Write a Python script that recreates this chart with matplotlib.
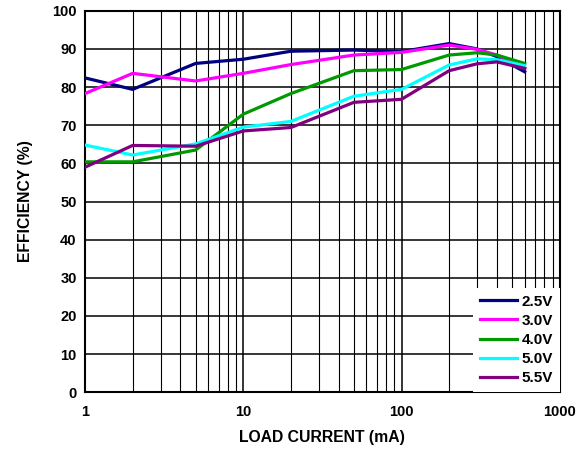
import numpy as np
import matplotlib
matplotlib.use('Agg')
import matplotlib.pyplot as plt
from matplotlib.ticker import FixedLocator, NullFormatter

plt.rcParams['font.family'] = ['Liberation Sans', 'DejaVu Sans']
plt.rcParams['font.weight'] = 'bold'

# load current (mA)
current = [1, 2, 5, 10, 20, 50, 100, 200, 300, 400, 600]

# efficiency (%) per input voltage
eff_25 = [82.4, 79.4, 86.2, 87.3, 89.4, 89.7, 89.3, 91.4, 90.0, 88.0, 84.0]
eff_30 = [78.3, 83.6, 81.6, 83.6, 85.9, 88.4, 89.1, 91.0, 89.9, 88.4, 84.9]
eff_40 = [60.4, 60.4, 63.5, 72.9, 78.3, 84.3, 84.6, 88.4, 89.0, 88.4, 86.2]
eff_50 = [64.8, 62.2, 65.1, 69.5, 71.0, 77.6, 79.4, 85.8, 87.4, 87.2, 85.6]
eff_55 = [59.0, 64.7, 64.5, 68.5, 69.4, 76.0, 76.8, 84.3, 86.1, 86.6, 84.9]

labels = ['2.5V', '3.0V', '4.0V', '5.0V', '5.5V']
colors = ['#000080', '#ff00ff', '#009900', '#00ffff', '#800080']

fig = plt.figure(figsize=(5.88, 4.49), dpi=100)
ax = fig.add_axes([0.1446, 0.1263, 0.8074, 0.8497])

for y, lab, c in zip([eff_25, eff_30, eff_40, eff_50, eff_55], labels, colors):
    ax.plot(current, y, color=c, lw=2.3, label=lab, zorder=3)

ax.set_xscale('log')
ax.set_xlim(1, 1000)
ax.set_ylim(0, 100)
ax.set_yticks(np.arange(0, 101, 10))
ax.set_xticks([1, 10, 100, 1000])
ax.set_xticklabels(['1', '10', '100', '1000'])
minors = [m * d for d in [1, 10, 100] for m in range(2, 10)]
ax.xaxis.set_minor_locator(FixedLocator(minors))
ax.xaxis.set_minor_formatter(NullFormatter())

ax.grid(True, which='major', color='black', lw=1.1)
ax.grid(True, which='minor', axis='x', color='black', lw=0.8)
ax.tick_params(which='both', length=0, labelsize=10.5)
ax.tick_params(axis='x', pad=9)
ax.tick_params(axis='y', pad=6)
for s in ax.spines.values():
    s.set_linewidth(1.5)

ax.set_xlabel('LOAD CURRENT (mA)', fontsize=11.3, fontweight='bold', labelpad=8)
ax.set_ylabel('EFFICIENCY (%)', fontsize=11.3, fontweight='bold', labelpad=14)

leg = ax.legend(loc='lower right', frameon=True, fancybox=False, fontsize=11,
                handlelength=2.4, handletextpad=0.3, labelspacing=0.34,
                borderaxespad=0.0, borderpad=0.45)
leg.get_frame().set_edgecolor('none')
leg.get_frame().set_facecolor('white')
leg.get_frame().set_alpha(1)
for t in leg.get_texts():
    t.set_fontweight('bold')

fig.savefig('out.png', dpi=100)
